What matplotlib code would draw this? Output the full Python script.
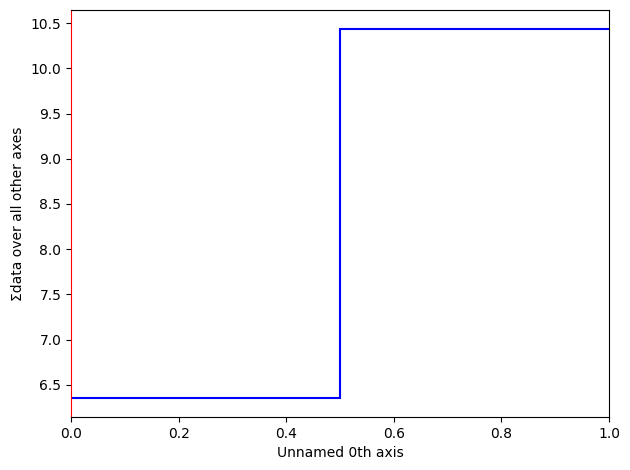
import matplotlib
matplotlib.use("Agg")
import matplotlib.pyplot as plt

# bin edges along the 0th axis and summed values per bin
edges = [0.0, 0.5, 1.0]
sums = [6.35, 10.44]

fig, ax = plt.subplots(figsize=(6.3, 4.7), dpi=100)
ax.stairs(sums, edges, baseline=None, color="blue", linewidth=1.5)
ax.spines["left"].set_color("red")
ax.set_xlim(edges[0], edges[-1])

ax.set_xlabel("Unnamed 0th axis")
ax.set_ylabel("\u03a3data over all other axes")
fig.subplots_adjust(left=0.1127, right=0.9667, top=0.9787, bottom=0.1128)
fig.savefig("out.png")
